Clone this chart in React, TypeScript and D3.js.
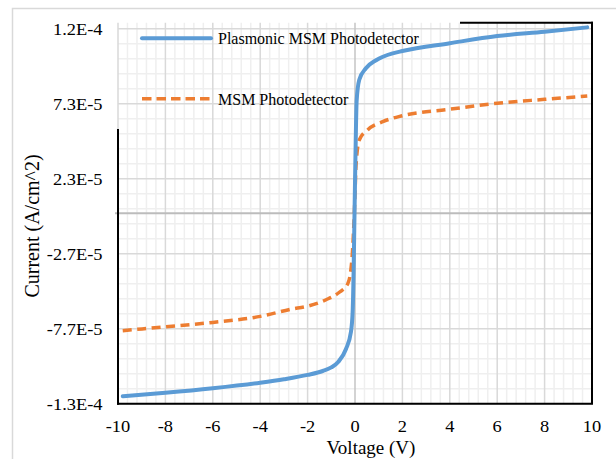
import React from "react";
import * as d3 from "d3";

const blueV = [-9.8, -8, -6, -4, -3, -2, -1.36, -1.0, -0.7, -0.38, -0.17, -0.1, -0.06, -0.03, 0, 0.03, 0.07, 0.18, 0.46, 0.89, 1.59, 2.0, 4.0, 6.0, 8.0, 9.8];
const blueI = [-1.22e-4, -1.197e-4, -1.167e-4, -1.13e-4, -1.107e-4, -1.078e-4, -1.052e-4, -1.028e-4, -9.9e-5, -9.05e-5, -7.9e-5, -6.6e-5, -4e-5, -1e-5, 2e-5, 4.8e-5, 7.5e-5, 8.9e-5, 9.66e-5, 1.02e-4, 1.066e-4, 1.081e-4, 1.133e-4, 1.181e-4, 1.21e-4, 1.239e-4];

const orangeV = [-9.8, -8, -6, -4, -2.7, -2, -1.22, -0.66, -0.31, -0.17, -0.1, -0.05, 0, 0.04, 0.18, 0.53, 1.17, 2.0, 4.0, 6.0, 8.0, 9.8];
const orangeI = [-7.83e-5, -7.57e-5, -7.28e-5, -6.88e-5, -6.4e-5, -6.2e-5, -5.77e-5, -5.27e-5, -4.72e-5, -3.72e-5, -2.39e-5, -8e-6, 1.2e-5, 3.1e-5, 4.88e-5, 5.55e-5, 6.1e-5, 6.5e-5, 6.93e-5, 7.33e-5, 7.59e-5, 7.81e-5];

const xTicks = [-10, -8, -6, -4, -2, 0, 2, 4, 6, 8, 10];
const yTickValues = [-1.27e-4, -7.7e-5, -2.7e-5, 2.3e-5, 7.3e-5, 1.23e-4];
const yTickLabels = ["-1.3E-4", "-7.7E-5", "-2.7E-5", "2.3E-5", "7.3E-5", "1.2E-4"];
const seriesNames = ["Plasmonic MSM Photodetector", "MSM Photodetector"];

const W = 616, H = 459;
const L = 118, R = 592, T = 22.7, B = 403.7;
const FONT = "'Liberation Serif', 'Times New Roman', serif";

export default function App() {
  const x = d3.scaleLinear().domain([-10, 10]).range([L, R]);
  const y = d3.scaleLinear().domain([-1.27e-4, 1.27e-4]).range([B, T]);

  const line = d3.line<[number, number]>()
    .x((d) => x(d[0]))
    .y((d) => y(d[1]))
    .curve(d3.curveMonotoneX);

  const blue = blueV.map((v, i) => [v, blueI[i]] as [number, number]);
  const orange = orangeV.map((v, i) => [v, orangeI[i]] as [number, number]);

  const minorX = d3.range(-10, 10.001, 0.4).filter((v) => Math.abs(Math.round(v / 2) * 2 - v) > 1e-6);
  const minorY = d3.range(0, 26).map((k) => -1.27e-4 + k * 1e-5).filter((_, k) => k % 5 !== 0);
  const majorY = yTickValues;

  return (
    <svg width={W} height={H} style={{ position: "absolute", left: 0, top: 0, background: "#fff" }}>
      <rect x={0} y={0} width={W} height={H} fill="#fff" />
      <rect x={12.5} y={8.5} width={W} height={H} fill="none" stroke="#d9d9d9" strokeWidth={1.5} />
      {minorX.map((v, i) => (
        <line key={"mx" + i} x1={x(v)} x2={x(v)} y1={T} y2={B} stroke="#efefef" strokeWidth={1.5} />
      ))}
      {minorY.map((v, i) => (
        <line key={"my" + i} x1={L} x2={R} y1={y(v)} y2={y(v)} stroke="#efefef" strokeWidth={1.5} />
      ))}
      {xTicks.filter((v) => v !== 0).map((v, i) => (
        <line key={"Mx" + i} x1={x(v)} x2={x(v)} y1={T} y2={B} stroke="#d9d9d9" strokeWidth={1.5} />
      ))}
      {majorY.map((v, i) => (
        <line key={"My" + i} x1={L} x2={R} y1={y(v)} y2={y(v)} stroke="#d9d9d9" strokeWidth={1.5} />
      ))}
      <line x1={x(0)} x2={x(0)} y1={T} y2={B} stroke="#c4c4c4" strokeWidth={1.5} />
      <line x1={L - 3} x2={R} y1={y(0)} y2={y(0)} stroke="#bcbcbc" strokeWidth={2} />
      <line x1={L} x2={L} y1={129} y2={B + 1} stroke="#000" strokeWidth={2} />
      <line x1={L - 1} x2={R + 1} y1={B} y2={B} stroke="#000" strokeWidth={2} />
      <line x1={R} x2={R} y1={T - 1} y2={B} stroke="#000" strokeWidth={2} />
      <line x1={460} x2={R + 1} y1={T} y2={T} stroke="#000" strokeWidth={2} />
      <path d={line(orange) || ""} fill="none" stroke="#ED7D31" strokeWidth={3.5} strokeDasharray="9 5.5" />
      <path d={line(blue) || ""} fill="none" stroke="#5B9BD5" strokeWidth={4} strokeLinecap="round" />
      {yTickValues.map((v, i) => (
        <text key={"yl" + i} transform={`translate(102.5,${y(v) + 6.5}) scale(1.15,1)`} textAnchor="end"
          fontFamily={FONT} fontSize={16} fill="#000">{yTickLabels[i]}</text>
      ))}
      {xTicks.map((v, i) => (
        <text key={"xl" + i} transform={`translate(${x(v)},432) scale(1.15,1)`} textAnchor="middle"
          fontFamily={FONT} fontSize={16} fill="#000">{v}</text>
      ))}
      <text x={371} y={454} textAnchor="middle" fontFamily={FONT} fontSize={19} fill="#000">Voltage (V)</text>
      <text transform="translate(38.5,226) rotate(-90)" textAnchor="middle" fontFamily={FONT} fontSize={20} fill="#000">Current (A/cm^2)</text>
      <line x1={142} x2={211} y1={38.3} y2={38.3} stroke="#5B9BD5" strokeWidth={4} strokeLinecap="round" />
      <text x={218} y={44} fontFamily={FONT} fontSize={16} fill="#000">{seriesNames[0]}</text>
      <line x1={142} x2={211} y1={98.7} y2={98.7} stroke="#ED7D31" strokeWidth={3.5} strokeDasharray="9.5 5" />
      <text x={218} y={104.5} fontFamily={FONT} fontSize={16} fill="#000">{seriesNames[1]}</text>
    </svg>
  );
}
